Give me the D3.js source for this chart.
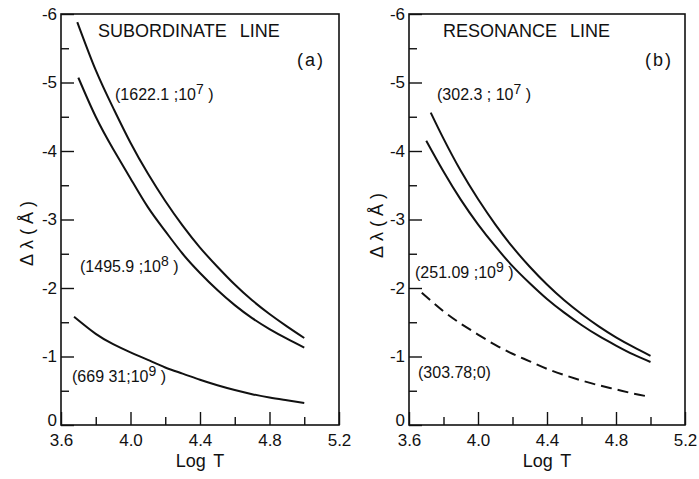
<!DOCTYPE html>
<html>
<head>
<meta charset="utf-8">
<script src="https://cdn.jsdelivr.net/npm/d3@7"></script>
<style>
  body { margin: 0; background: #fff; }
  svg text { font-family: "Liberation Sans", Arial, sans-serif; fill: #111; }
</style>
</head>
<body>
<svg id="chart" width="699" height="479"></svg>
<script>
// shared grid of log T after each curve's own first point
var logT = [3.8, 3.9, 4.0, 4.1, 4.2, 4.3, 4.4, 4.5, 4.6, 4.7, 4.8, 4.9, 5.0]

// (a) subordinate line
var sub1622 = [-5.88, -5.18, -4.63, -4.12, -3.67, -3.27, -2.91, -2.59, -2.31, -2.05, -1.82, -1.62, -1.44, -1.27]
var sub1495 = [-5.07, -4.50, -4.03, -3.60, -3.18, -2.83, -2.50, -2.22, -1.97, -1.75, -1.56, -1.40, -1.26, -1.13]
var sub669  = [-1.58, -1.33, -1.18, -1.06, -0.95, -0.84, -0.75, -0.66, -0.58, -0.51, -0.45, -0.40, -0.36, -0.32]
var subStart = [3.694, 3.70, 3.675]

// (b) resonance line
var res302  = [-4.56, -4.18, -3.71, -3.30, -2.93, -2.60, -2.31, -2.05, -1.82, -1.62, -1.44, -1.28, -1.14, -1.01]
var res251  = [-4.15, -3.70, -3.29, -2.93, -2.61, -2.32, -2.07, -1.84, -1.64, -1.46, -1.30, -1.16, -1.03, -0.92]
var res303  = [-1.93, -1.66, -1.48, -1.32, -1.17, -1.04, -0.93, -0.82, -0.73, -0.65, -0.58, -0.52, -0.46, -0.41]
var resStart = [3.726, 3.70, 3.674]

var xTicks = [3.6, 4.0, 4.4, 4.8, 5.2]
var xTickLabels = ["3.6", "4.0", "4.4", "4.8", "5.2"]
var xMinor = [3.8, 4.2, 4.6, 5.0]
var yTicks = [0, -1, -2, -3, -4, -5, -6]
var yTickLabels = ["0", "-1", "-2", "-3", "-4", "-5", "-6"]
var yMinor = [-0.5, -1.5, -2.5, -3.5, -4.5, -5.5]

var svg = d3.select('#chart')

function toPoints(start, values) {
  return values.map(function(v, i) {
    return { t: i === 0 ? start : logT[i - 1], v: v }
  })
}

function panel(opt) {
  var x = d3.scaleLinear().domain([3.6, 5.2]).range([opt.left, opt.right])
  var y = d3.scaleLinear().domain([0, -6]).range([425, 14])
  var g = svg.append('g')

  // minor ticks
  g.append('g').attr('transform', 'translate(' + opt.left + ',0)')
    .call(d3.axisLeft(y).tickValues(yMinor).tickSize(-8).tickFormat(''))
  g.append('g').attr('transform', 'translate(0,425)')
    .call(d3.axisBottom(x).tickValues(xMinor).tickSize(-8).tickFormat(''))

  // major ticks
  g.append('g').attr('class', 'yaxis').attr('transform', 'translate(' + opt.left + ',0)')
    .call(d3.axisLeft(y).tickValues(yTicks).tickSize(-13).tickPadding(4)
      .tickFormat(function(d, i) { return yTickLabels[i] }))
  g.append('g').attr('class', 'xaxis').attr('transform', 'translate(0,425)')
    .call(d3.axisBottom(x).tickValues(xTicks).tickSize(-13).tickPadding(9)
      .tickFormat(function(d, i) { return xTickLabels[i] }))

  g.selectAll('.domain').remove()
  g.selectAll('.tick line').attr('stroke', '#111').attr('stroke-width', 1.4)
  g.selectAll('.tick text').attr('font-size', 17).attr('fill', '#111')
    .style('font-family', '"Liberation Sans", Arial, sans-serif')
  // lift the origin label clear of the 3.6 label, as in the figure
  g.select('.yaxis').selectAll('.tick text')
    .filter(function(d) { return d === 0 })
    .attr('dy', '0.05em')

  // frame
  g.append('rect')
    .attr('x', opt.left).attr('y', 14)
    .attr('width', opt.right - opt.left).attr('height', 411)
    .attr('fill', 'none').attr('stroke', '#111').attr('stroke-width', 1.6)

  var line = d3.line()
    .x(function(d) { return x(d.t) })
    .y(function(d) { return y(d.v) })
    .curve(d3.curveNatural)

  opt.series.forEach(function(s, i) {
    g.append('path')
      .datum(toPoints(opt.start[i], s.values))
      .attr('d', line)
      .attr('fill', 'none')
      .attr('stroke', '#111')
      .attr('stroke-width', 2)
      .attr('stroke-dasharray', s.dashed ? '11,6' : null)

    var t = g.append('text')
      .attr('x', s.lx).attr('y', s.ly)
      .attr('font-size', 16)
      .text(s.label)
    if (s.sup) {
      t.append('tspan').attr('dy', -6).attr('font-size', 14).text(s.sup)
      t.append('tspan').attr('dy', 6).text(' )')
    }
  })

  g.append('text').attr('x', opt.titleX).attr('y', 37)
    .attr('font-size', 18).attr('word-spacing', 8)
    .text(opt.title)
  g.append('text').attr('x', opt.tagX).attr('y', 66)
    .attr('font-size', 18).attr('letter-spacing', 2)
    .text(opt.tag)

  g.append('text')
    .attr('transform', 'translate(' + opt.ylabX + ',' + opt.ylabY + ') rotate(-90)')
    .attr('text-anchor', 'middle')
    .attr('font-size', 18).attr('letter-spacing', 5)
    .text('Δλ(Å)')

  g.append('text')
    .attr('x', (x(4.3) + x(4.5)) / 2).attr('y', 467)
    .attr('text-anchor', 'middle')
    .attr('font-size', 18).attr('word-spacing', 3)
    .text('Log T')
}

panel({
  left: 61, right: 339, title: 'SUBORDINATE LINE', titleX: 98, tag: '(a)', tagX: 297,
  ylabX: 33, ylabY: 231, start: subStart,
  series: [
    { values: sub1622, label: '(1622.1 ;10', sup: '7', lx: 115, ly: 100 },
    { values: sub1495, label: '(1495.9 ;10', sup: '8', lx: 80, ly: 272 },
    { values: sub669, label: '(669 31;10', sup: '9', lx: 72, ly: 382 }
  ]
})

panel({
  left: 409, right: 685, title: 'RESONANCE LINE', titleX: 443, tag: '(b)', tagX: 645,
  ylabX: 383, ylabY: 223, start: resStart,
  series: [
    { values: res302, label: '(302.3 ; 10', sup: '7', lx: 437, ly: 100 },
    { values: res251, label: '(251.09 ;10', sup: '9', lx: 415, ly: 278 },
    { values: res303, label: '(303.78;0)', lx: 418, ly: 378, dashed: true }
  ]
})
</script>
</body>
</html>
